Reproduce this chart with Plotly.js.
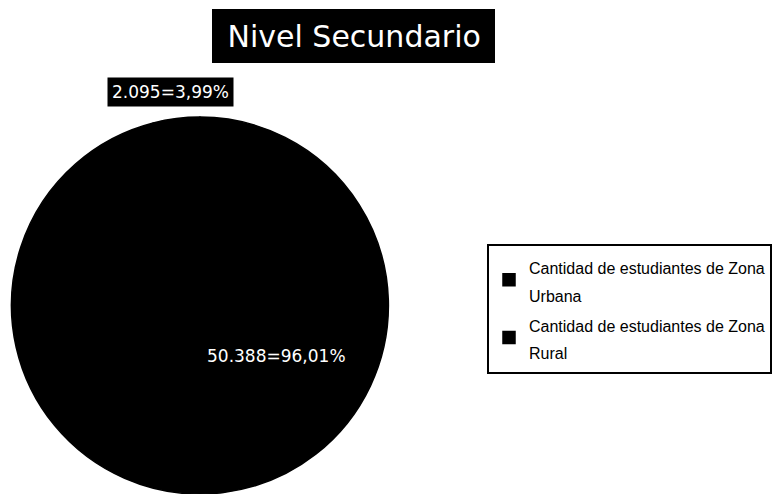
<!DOCTYPE html>
<html>
<head>
<meta charset="utf-8">
<script src="https://cdn.plot.ly/plotly-3.0.1.min.js"></script>
<style>html,body{margin:0;padding:0;background:#fff;}#chart{width:775px;height:494px;}</style>
</head>
<body>
<div id="chart"></div>
<script>
// ---- data ----
var chartTitle = "Nivel Secundario";
var categories = ["Cantidad de estudiantes de Zona Urbana", "Cantidad de estudiantes de Zona Rural"];
var values = [50388, 2095];
var sliceColors = ["#000000", "#000000"];

// ---- helpers ----
function fmtThousands(n) {
  return String(n).replace(/\B(?=(\d{3})+(?!\d))/g, ".");
}
var total = values.reduce(function (a, b) { return a + b; }, 0);
var labelTexts = values.map(function (v) {
  return fmtThousands(v) + "=" + (v / total * 100).toFixed(2).replace(".", ",") + "%";
});
var legendLabels = categories.map(function (c) {
  return '<span style="font-size:16px">' + c.replace(" Zona ", " Zona<br>") + '</span>';
});

var trace = {
  type: "pie",
  labels: legendLabels,
  values: values,
  sort: false,
  direction: "clockwise",
  rotation: 0,
  textinfo: "none",
  hoverinfo: "none",
  marker: { colors: sliceColors, line: { color: "#000000", width: 1.5 } },
  domain: { x: [0.013, 0.503], y: [0.0, 0.763] }
};

var layout = {
  width: 775,
  height: 494,
  margin: { l: 0, r: 0, t: 0, b: 0 },
  paper_bgcolor: "#ffffff",
  plot_bgcolor: "#ffffff",
  title: {
    text: chartTitle,
    font: { family: "DejaVu Sans", size: 30, color: "#ffffff" },
    x: 0.457, xanchor: "center", xref: "paper",
    y: 0.927, yanchor: "middle", yref: "container"
  },
  shapes: [{
    type: "rect", xref: "paper", yref: "paper", layer: "above",
    x0: 212 / 775, x1: 495 / 775, y0: 1 - 63 / 494, y1: 1 - 9 / 494,
    fillcolor: "#000000", line: { width: 0 }
  }],
  showlegend: true,
  legend: {
    x: 487 / 775, xanchor: "left",
    y: 1 - 244 / 494, yanchor: "top",
    bgcolor: "#ffffff",
    bordercolor: "#000000",
    borderwidth: 2,
    font: { family: "Liberation Sans", size: 21, color: "#000000" },
    traceorder: "normal",
    itemwidth: 30
  },
  annotations: [
    {
      text: labelTexts[0], xref: "paper", yref: "paper",
      x: 276 / 775, y: 1 - 356 / 494, xanchor: "center", yanchor: "middle",
      showarrow: false,
      font: { family: "DejaVu Sans", size: 17, color: "#ffffff" }
    },
    {
      text: labelTexts[1], xref: "paper", yref: "paper",
      x: 170 / 775, y: 1 - 92 / 494, xanchor: "center", yanchor: "middle",
      showarrow: false,
      bgcolor: "#000000", borderpad: 4,
      font: { family: "DejaVu Sans", size: 17, color: "#ffffff" }
    }
  ]
};

Plotly.newPlot("chart", [trace], layout, { displayModeBar: false, staticPlot: true });
</script>
</body>
</html>
